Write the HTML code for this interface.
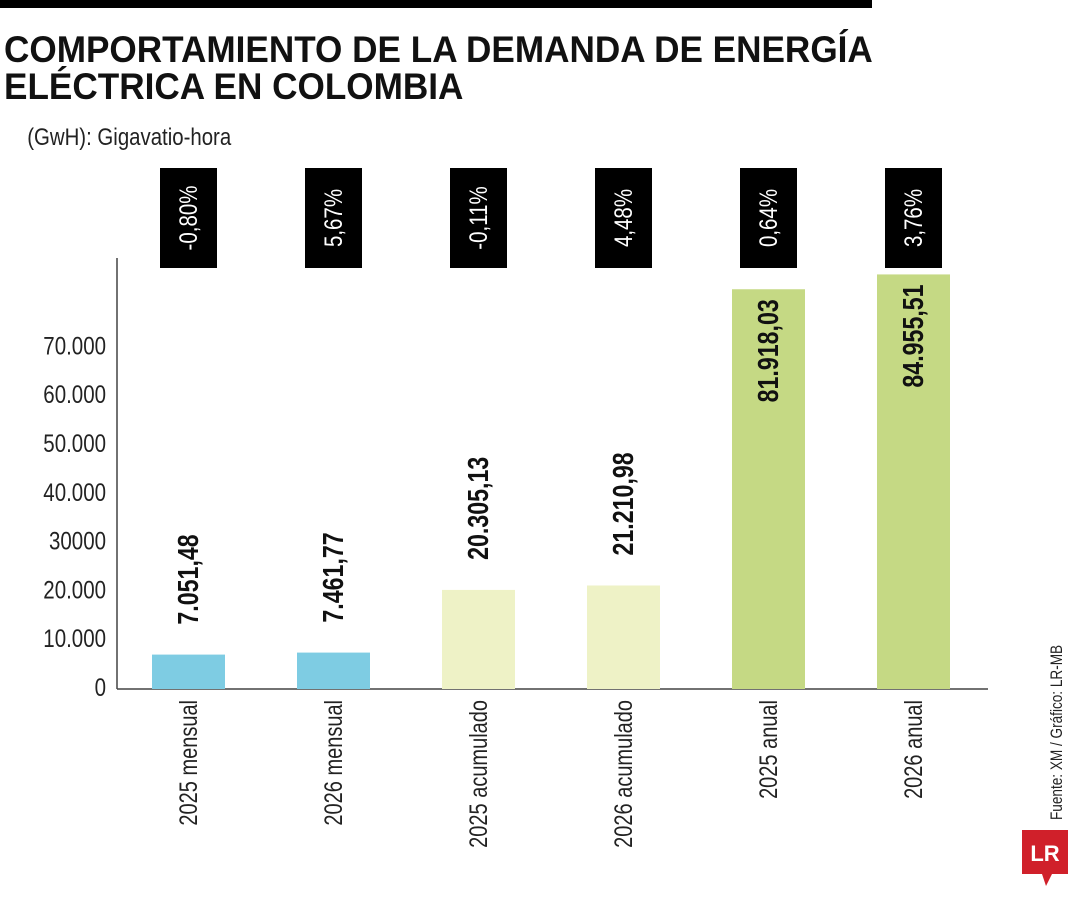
<!DOCTYPE html>
<html><head><meta charset="utf-8"><style>
html,body{margin:0;padding:0;background:#fff;width:1080px;height:900px;overflow:hidden}
svg{display:block}
text{font-family:"Liberation Sans",sans-serif}
</style></head><body>
<svg width="1080" height="900" viewBox="0 0 1080 900">
<rect x="0" y="0" width="872" height="8" fill="#000"/>
<g transform="translate(4,62) scale(0.95,1)">
<text x="0" y="0" font-size="37" font-weight="bold" fill="#111">COMPORTAMIENTO DE LA DEMANDA DE ENERGÍA</text>
<text x="0" y="37" font-size="37" font-weight="bold" fill="#111">ELÉCTRICA EN COLOMBIA</text>
</g>
<text x="32" y="145" font-size="24" fill="#222" transform="scale(0.85,1)">(GwH): Gigavatio-hora</text>
<line x1="117" y1="258" x2="117" y2="689" stroke="#444" stroke-width="1.5"/>
<line x1="117" y1="689" x2="988" y2="689" stroke="#444" stroke-width="1.5"/>
<g id="ticks"></g><g id="bars"></g>
<g transform="translate(1062,820) rotate(-90) scale(0.8,1)"><text x="0" y="0" font-size="17" fill="#222">Fuente: XM / Gráfico: LR-MB</text></g>
<g>
<rect x="1022" y="830" width="46" height="44" fill="#d0202a"/>
<polygon points="1042,874 1052,874 1046,886" fill="#d0202a"/>
<text x="1045" y="861" font-size="22" font-weight="bold" fill="#fff" text-anchor="middle" font-family="Liberation Serif,serif">LR</text>
</g>
</svg>
<script>
const categories=["2025 mensual","2026 mensual","2025 acumulado","2026 acumulado","2025 anual","2026 anual"];
const values=[7051.48,7461.77,20305.13,21210.98,81918.03,84955.51];
const valueLabels=["7.051,48","7.461,77","20.305,13","21.210,98","81.918,03","84.955,51"];
const pctLabels=["-0,80%","5,67%","-0,11%","4,48%","0,64%","3,76%"];
const tickValues=[0,10000,20000,30000,40000,50000,60000,70000];
const tickLabels=["0","10.000","20.000","30000","40.000","50.000","60.000","70.000"];
const colors=["#7ecce3","#7ecce3","#eef2c6","#eef2c6","#c5d984","#c5d984"];
const NS="http://www.w3.org/2000/svg";
const y0=689,k=0.00488;
function y(v){return y0-v*k;}
function x(i){return 188+i*145;}
function mk(t,a,p){const e=document.createElementNS(NS,t);for(const n in a)e.setAttribute(n,a[n]);p.appendChild(e);return e;}
const tg=document.getElementById('ticks'),bg=document.getElementById('bars');
tickValues.forEach((v,i)=>{
 const g=mk('g',{transform:`translate(106,${y(v)+7}) scale(0.82,1)`},tg);
 
 
 const t=mk('text',{x:0,y:0,'font-size':25,'text-anchor':'end',fill:'#222'},g);t.textContent=tickLabels[i];
});
values.forEach((v,i)=>{
 const cx=x(i),top=y(v);
 const r=mk('rect',{x:cx-36,y:top,width:73,height:y0-top,fill:colors[i]},bg);
 
 
 const b=mk('rect',{x:cx-28,y:168,width:57,height:100,fill:'#000'},bg);
 
 
 const pg=mk('g',{transform:`translate(${cx+9},218) rotate(-90) scale(0.82,1)`},bg);
 
 
 const pt=mk('text',{x:0,y:0,'font-size':25,fill:'#fff','text-anchor':'middle'},pg);pt.textContent=pctLabels[i];
 const inside=(y0-top)>250;
 const ly=inside?top+10:top-30;
 const vg=mk('g',{transform:`translate(${cx+10},${ly}) rotate(-90) scale(0.8,1)`},bg);
 
 
 const vt=mk('text',{x:0,y:0,'font-size':29,'font-weight':'bold',fill:'#111','text-anchor':inside?'end':'start'},vg);vt.textContent=valueLabels[i];
 const cg=mk('g',{transform:`translate(${cx+9},700) rotate(-90) scale(0.8,1)`},bg);
 
 
 const ct=mk('text',{x:0,y:0,'font-size':25,fill:'#222','text-anchor':'end'},cg);ct.textContent=categories[i];
});
</script>
</body></html>
